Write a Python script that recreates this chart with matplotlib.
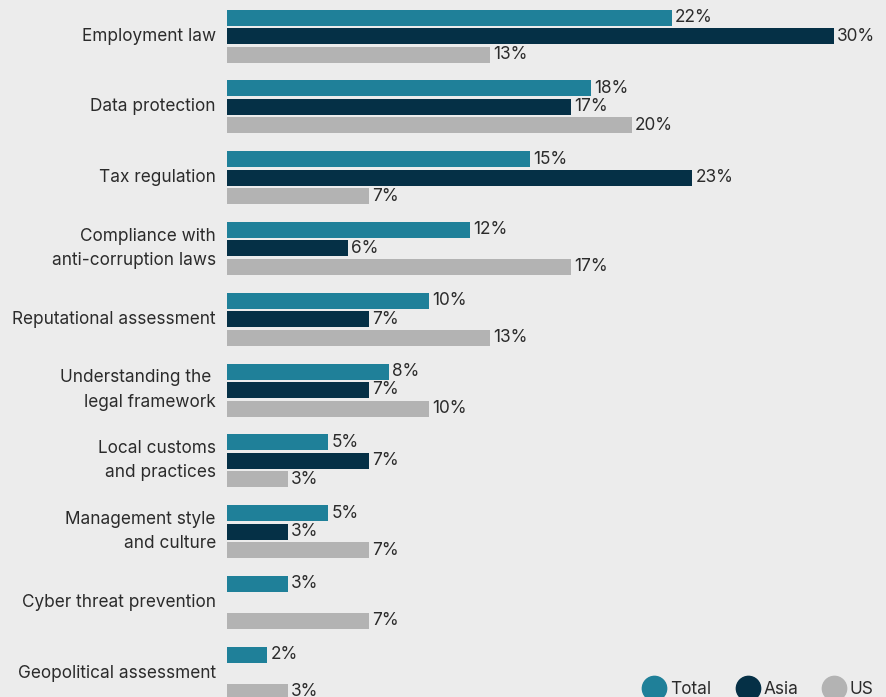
import numpy as np
import matplotlib.pyplot as plt
from matplotlib.lines import Line2D

categories = [
    "Employment law",
    "Data protection",
    "Tax regulation",
    "Compliance with\nanti-corruption laws",
    "Reputational assessment",
    "Understanding the \nlegal framework",
    "Local customs\nand practices",
    "Management style\nand culture",
    "Cyber threat prevention",
    "Geopolitical assessment",
]
total = [22, 18, 15, 12, 10, 8, 5, 5, 3, 2]
asia = [30, 17, 23, 6, 7, 7, 7, 3, None, None]
us = [13, 20, 7, 17, 13, 10, 3, 7, 7, 3]

series = [("Total", total, "#1f8099"), ("Asia", asia, "#053046"), ("US", us, "#b3b3b3")]

BG = "#ececec"
TXT = "#2b2b2b"
FS = 12.4
plt.rcParams["font.family"] = ["Inter", "DejaVu Sans"]

fig = plt.figure(figsize=(8.87, 6.97), dpi=100, facecolor=BG)
ax = fig.add_axes([227 / 887, 0, 660 / 887, 1])
ax.set_facecolor(BG)

pitch = 70.8
offset = 18.5 / pitch
height = 16 / pitch
y = np.arange(len(categories))

for k, (name, vals, color) in enumerate(series):
    for i, v in enumerate(vals):
        if v is None:
            continue
        yy = y[i] + (k - 1) * offset
        ax.barh(yy, v, height=height, color=color, left=0)
        ax.text(v + 0.15, yy, f"{v}%", va="center", ha="left",
                fontsize=FS, color=TXT)

for i, cat in enumerate(categories):
    ax.text(-0.55, y[i], cat, ha="right", va="center", fontsize=FS,
            color=TXT, linespacing=1.55, clip_on=False)

ax.set_xlim(0, 660 / (607 / 30))
ax.set_ylim((697 - 36) / pitch, -36 / pitch)
ax.axis("off")

# legend drawn by hand: coloured dot followed by its name
legend_x = [654, 748, 834]
for (name, _, color), px in zip(series, legend_x):
    fig.add_artist(Line2D([px / 887], [1 - 688 / 697], marker="o", markersize=17.5,
                          color=color, linestyle="", transform=fig.transFigure))
    fig.text((px + 16) / 887, 1 - 689 / 697, name, ha="left", va="center",
             fontsize=FS, color=TXT)

fig.savefig("out.png", dpi=100, facecolor=BG)
